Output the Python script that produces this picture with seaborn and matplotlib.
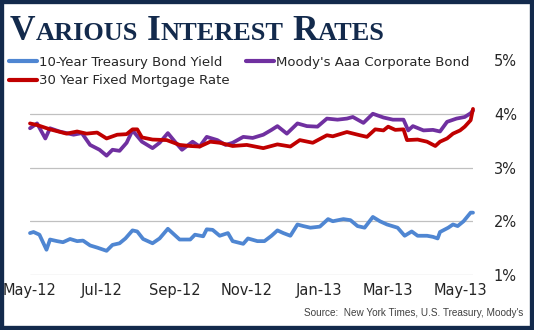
import numpy as np
import pandas as pd
import matplotlib
matplotlib.use("Agg")
import matplotlib.pyplot as plt
import seaborn as sns
from matplotlib.patches import Rectangle

# ---------------- data (day offsets from 2012-05-01, values in %) ----------------
start_date = "2012-05-01"

treasury_days = [0, 3, 8, 14, 17, 23, 28, 34, 40, 45, 51, 57, 65, 70, 76, 81, 87, 91, 96, 104,
                 110, 117, 121, 127, 136, 140, 147, 150, 155, 161, 168, 172, 181, 185, 193, 199,
                 205, 210, 215, 221, 227, 232, 238, 246, 253, 257, 266, 272, 278, 284, 291, 297,
                 303, 312, 318, 324, 329, 337, 342, 346, 348, 355, 359, 363, 368, 374, 376]
treasury_vals = [1.78, 1.80, 1.75, 1.47, 1.66, 1.63, 1.61, 1.67, 1.63, 1.64, 1.55, 1.51, 1.45, 1.56,
                 1.59, 1.68, 1.83, 1.81, 1.67, 1.59, 1.68, 1.86, 1.78, 1.66, 1.66, 1.75, 1.72, 1.85,
                 1.84, 1.73, 1.78, 1.63, 1.58, 1.68, 1.63, 1.63, 1.73, 1.83, 1.78, 1.73, 1.94, 1.91,
                 1.88, 1.90, 2.04, 2.00, 2.04, 2.02, 1.91, 1.88, 2.08, 2.00, 1.94, 1.88, 1.73, 1.81,
                 1.73, 1.73, 1.71, 1.68, 1.80, 1.88, 1.94, 1.91, 2.00, 2.16, 2.16]

moodys_days = [0, 6, 13, 17, 25, 37, 44, 51, 59, 65, 70, 76, 82, 87, 95, 104, 110, 117, 123, 129,
               138, 144, 150, 159, 166, 172, 181, 189, 198, 205, 210, 218, 227, 235, 244, 252, 261,
               269, 274, 283, 291, 300, 308, 317, 321, 325, 334, 342, 348, 354, 362, 369, 374, 376]
moodys_vals = [3.73, 3.82, 3.54, 3.73, 3.67, 3.61, 3.64, 3.42, 3.33, 3.22, 3.33, 3.31, 3.46, 3.69,
               3.48, 3.36, 3.46, 3.64, 3.48, 3.33, 3.48, 3.39, 3.57, 3.51, 3.42, 3.46, 3.57, 3.55,
               3.61, 3.70, 3.77, 3.63, 3.82, 3.77, 3.76, 3.91, 3.89, 3.91, 3.94, 3.83, 4.00, 3.93,
               3.89, 3.89, 3.69, 3.77, 3.69, 3.70, 3.67, 3.85, 3.91, 3.94, 4.01, 4.06]

mortgage_days = [0, 6, 17, 31, 40, 48, 57, 65, 74, 82, 87, 91, 95, 104, 116, 127, 136, 144, 153,
                 161, 172, 184, 198, 210, 221, 229, 240, 252, 257, 269, 280, 286, 293, 300, 304,
                 310, 317, 320, 329, 337, 344, 348, 354, 359, 365, 369, 374, 376]
mortgage_vals = [3.82, 3.79, 3.71, 3.63, 3.67, 3.63, 3.65, 3.54, 3.61, 3.62, 3.71, 3.71, 3.56, 3.52,
                 3.51, 3.42, 3.40, 3.39, 3.48, 3.46, 3.40, 3.42, 3.36, 3.43, 3.39, 3.51, 3.46, 3.60,
                 3.58, 3.66, 3.60, 3.57, 3.71, 3.69, 3.76, 3.70, 3.71, 3.51, 3.52, 3.48, 3.40, 3.48,
                 3.54, 3.63, 3.69, 3.76, 3.88, 4.09]

series_names = ["10-Year Treasury Bond Yield", "30 Year Fixed Mortgage Rate", "Moody's Aaa Corporate Bond"]
tick_dates = ["2012-05-01", "2012-07-01", "2012-09-01", "2012-11-01", "2013-01-01", "2013-03-01", "2013-05-01"]
tick_labels = ["May-12", "Jul-12", "Sep-12", "Nov-12", "Jan-13", "Mar-13", "May-13"]
y_ticks = [1, 2, 3, 4, 5]
y_labels = ["1%", "2%", "3%", "4%", "5%"]
title_parts = [("V", True), ("ARIOUS", False), (" ", True), ("I", True), ("NTEREST", False),
               (" ", True), ("R", True), ("ATES", False)]
source_text = "Source:  New York Times, U.S. Treasury, Moody's"

# ---------------- build frames ----------------
t0 = pd.Timestamp(start_date)
def frame(days, vals):
    return pd.DataFrame({"date": t0 + pd.to_timedelta(days, unit="D"), "value": vals})

df_t = frame(treasury_days, treasury_vals)
df_m = frame(moodys_days, moodys_vals)
df_r = frame(mortgage_days, mortgage_vals)

# ---------------- style ----------------
sns.set_theme(style="white")
plt.rcParams["font.family"] = ["DejaVu Sans"]

NAVY = "#132a4c"
BLUE = "#4f86d2"
PURPLE = "#7030a0"
RED = "#c00000"
TXT = "#262626"

W, H = 534, 330
fig = plt.figure(figsize=(W / 100, H / 100), dpi=100)
fig.patch.set_facecolor("white")
ax = fig.add_axes([30 / W, 55 / H, 443 / W, 215 / H])
ax.set_facecolor("white")

lw = 2.7
sns.lineplot(data=df_t, x="date", y="value", ax=ax, color=BLUE, lw=lw, label=series_names[0])
sns.lineplot(data=df_m, x="date", y="value", ax=ax, color=PURPLE, lw=lw, label=series_names[2])
sns.lineplot(data=df_r, x="date", y="value", ax=ax, color=RED, lw=lw, label=series_names[1])
for ln in ax.lines:
    ln.set_solid_joinstyle("round")
    ln.set_clip_on(False)

ax.set_xlim(t0, df_t["date"].iloc[-1])
ax.set_ylim(1, 5)
for s in ax.spines.values():
    s.set_visible(False)

for v in y_ticks[:-1]:
    ax.axhline(v, color="#c0c0c0", lw=0.9, zorder=0)

ax.yaxis.tick_right()
ax.set_yticks(y_ticks)
ax.set_yticklabels(y_labels)
ax.set_xticks(pd.to_datetime(tick_dates))
ax.set_xticklabels(tick_labels)
ax.tick_params(axis="y", length=0, pad=15, labelsize=10.5, labelcolor=TXT)
ax.tick_params(axis="x", length=0, pad=6, labelsize=10.5, labelcolor=TXT)
ax.set_xlabel("")
ax.set_ylabel("")

# legend (column-major: treasury, mortgage | moody's)
handles, labels = ax.get_legend_handles_labels()
order = [labels.index(n) for n in series_names]
leg = ax.legend([handles[i] for i in order], [labels[i] for i in order], ncol=2,
                loc="upper left", bbox_to_anchor=(9 / W, 1 - 56 / H), bbox_transform=fig.transFigure,
                frameon=False, fontsize=9.5, handlelength=2.1, handletextpad=0.15,
                columnspacing=1.3, labelspacing=0.4, borderaxespad=0, borderpad=0)
for t in leg.get_texts():
    t.set_color(TXT)
for h in leg.get_lines():
    h.set_linewidth(3)

# title in small caps
fig.canvas.draw()
renderer = fig.canvas.get_renderer()
x = 10 / W
base_y = 1 - 40 / H
for txt, big in title_parts:
    t = fig.text(x, base_y, txt, fontsize=25.5 if big else 19, fontweight="bold",
                 family="Liberation Serif", color=NAVY, va="baseline", ha="left")
    bb = t.get_window_extent(renderer=renderer)
    x += bb.width / W

fig.text(523 / W, 1 - 313 / H, source_text, ha="right", va="center", fontsize=7.2,
         family="Liberation Sans", color="#404040")

fig.patches.append(Rectangle((0, 0), 1, 1, transform=fig.transFigure, fill=False,
                             edgecolor=NAVY, lw=6))

fig.savefig("out.png", dpi=100, facecolor="white")
